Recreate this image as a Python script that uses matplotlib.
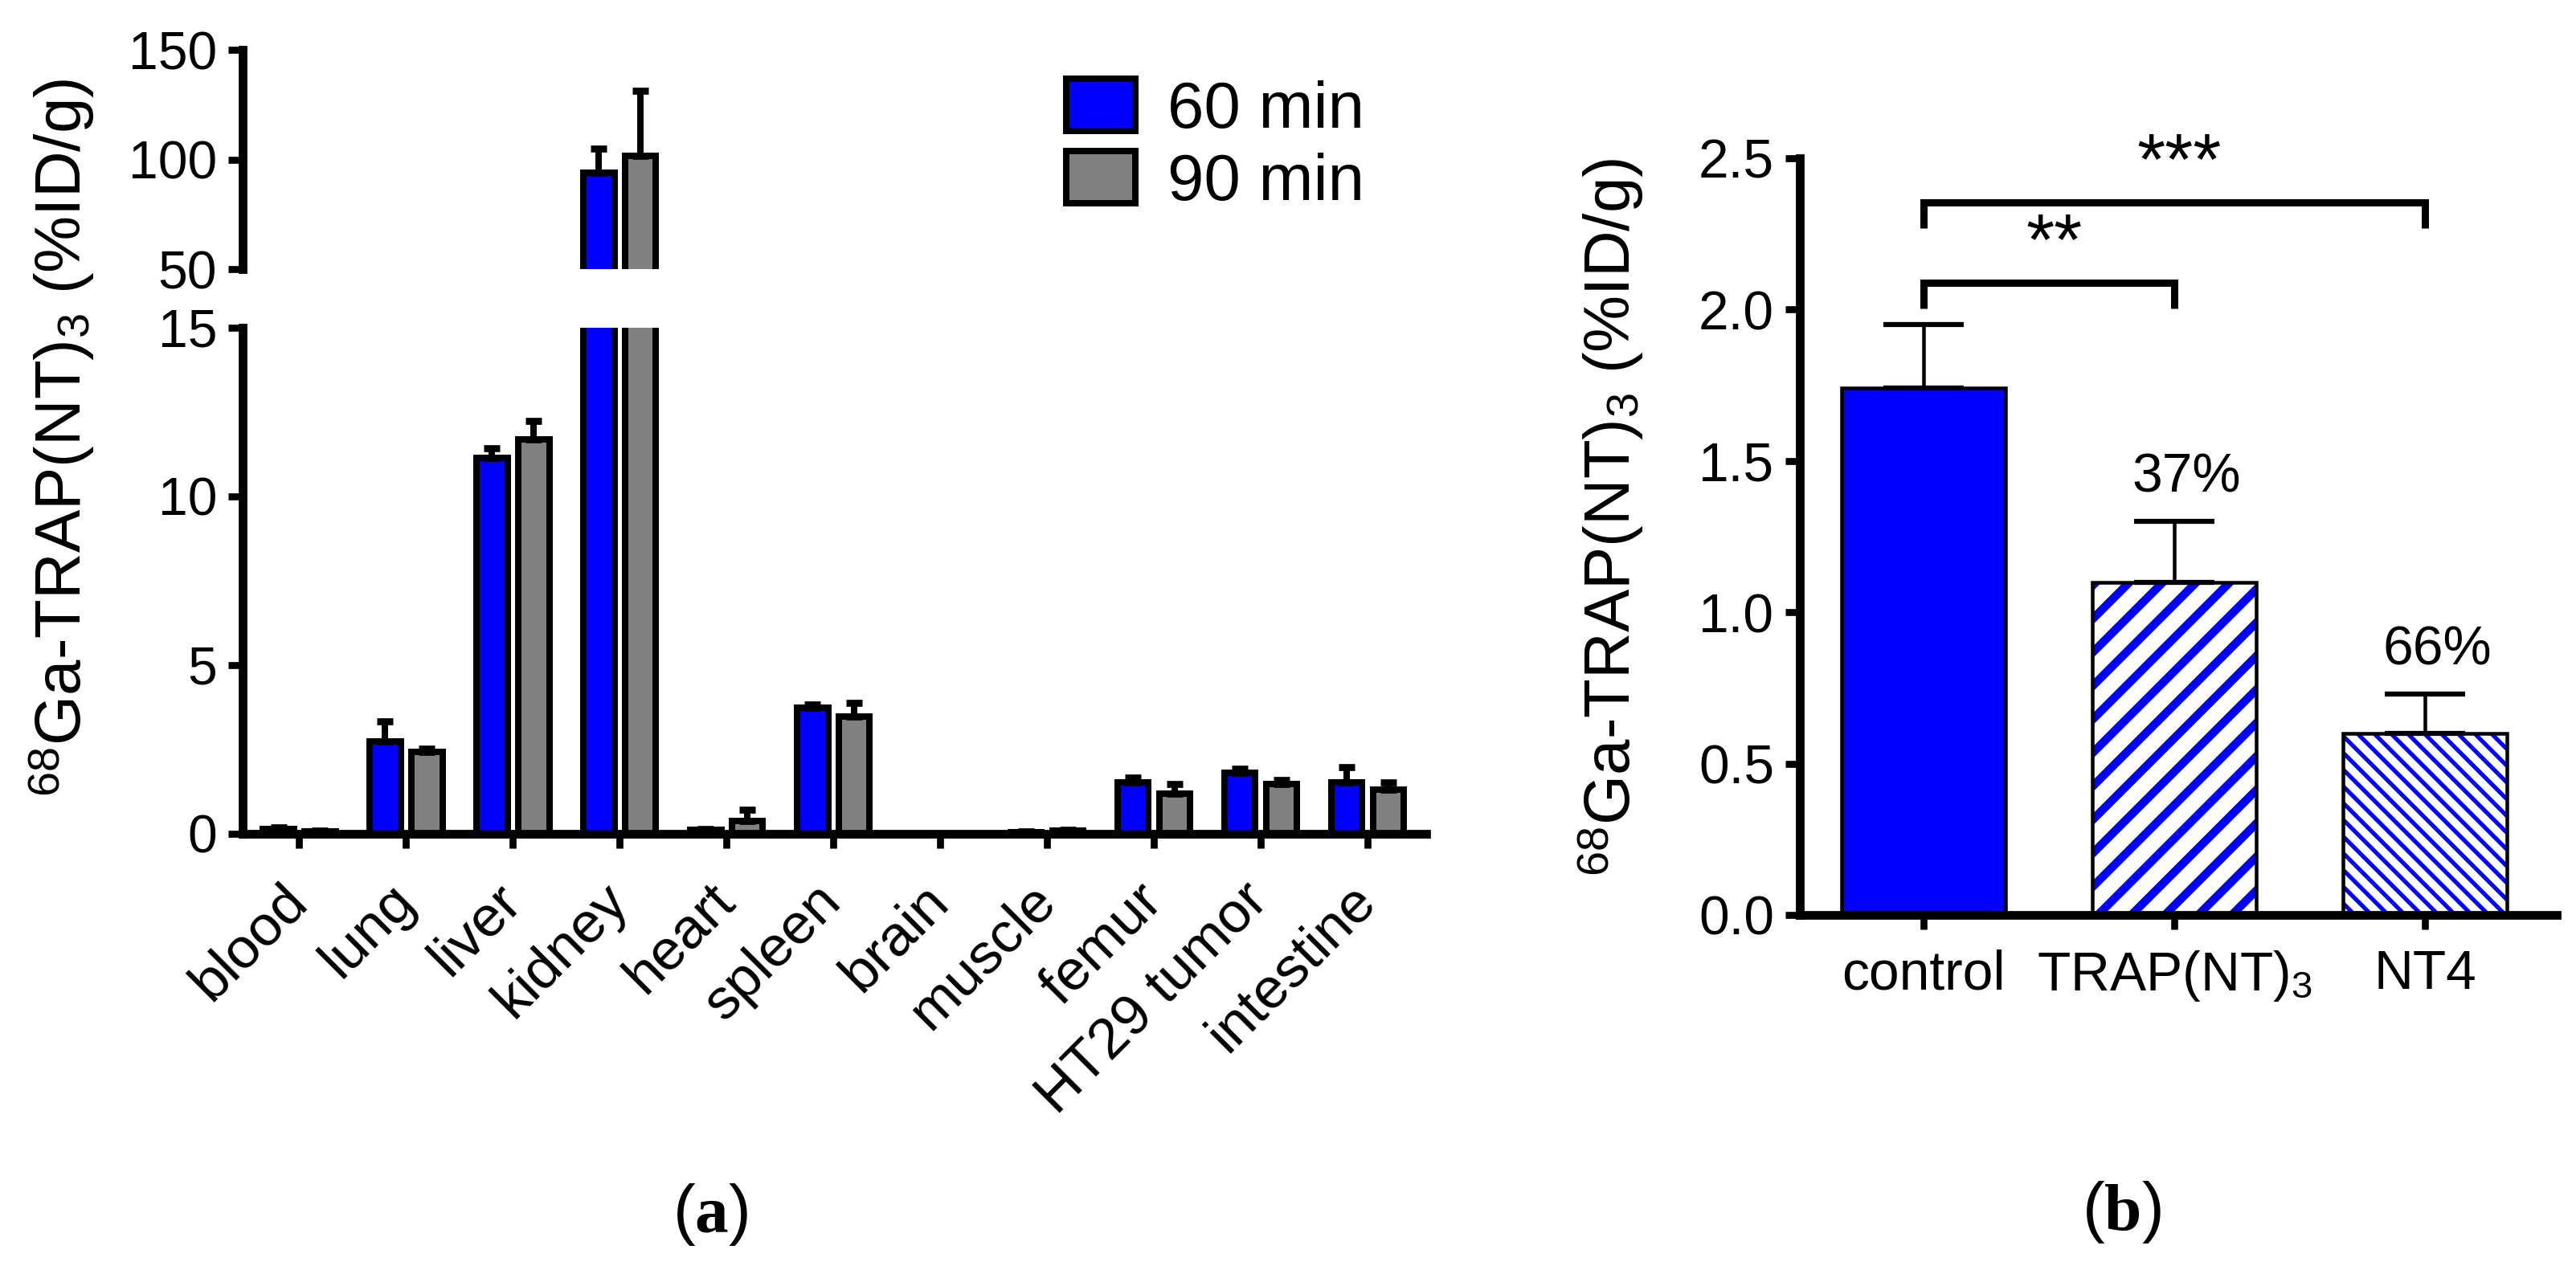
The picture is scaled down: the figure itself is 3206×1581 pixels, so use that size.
import numpy as np
import matplotlib.pyplot as plt

plt.rcParams['font.family'] = 'Liberation Sans'
plt.rcParams['mathtext.fontset'] = 'custom'
plt.rcParams['mathtext.rm'] = 'Liberation Sans'
plt.rcParams['mathtext.it'] = 'Liberation Serif'
plt.rcParams['mathtext.bf'] = 'Liberation Serif:bold'

# (a) biodistribution, %ID/g
organs = ['blood', 'lung', 'liver', 'kidney', 'heart', 'spleen', 'brain',
          'muscle', 'femur', 'HT29 tumor', 'intestine']
min60 = [0.15, 2.75, 11.15, 94.0, 0.12, 3.75, 0.0, 0.05, 1.52, 1.82, 1.52]
min60_err = [0.03, 0.58, 0.28, 11.0, 0.02, 0.08, 0.0, 0.02, 0.15, 0.12, 0.45]
min90 = [0.08, 2.42, 11.7, 101.5, 0.37, 3.47, 0.0, 0.10, 1.18, 1.47, 1.32]
min90_err = [0.02, 0.10, 0.53, 30.0, 0.35, 0.40, 0.0, 0.03, 0.29, 0.13, 0.20]

# (b) blocking study
groups = ['control', 'TRAP(NT)$_3$', 'NT4']
uptake = [1.74, 1.10, 0.60]
uptake_err = [0.21, 0.20, 0.13]
reduction = ['', '37%', '66%']

W, H, dpi = 3206, 1581, 250
fig = plt.figure(figsize=(W / dpi, H / dpi), dpi=dpi)


def box(x0, y0, x1, y1):
    return [x0 / W, 1 - y1 / H, (x1 - x0) / W, (y1 - y0) / H]


blue = '#0000ff'
grey = '#808080'
spine_lw = 3.1

ax_top = fig.add_axes(box(302, 62, 1775, 335))
ax_bot = fig.add_axes(box(302, 408, 1775, 1038))
ax_b = fig.add_axes(box(2240, 197, 3182, 1139))

# ---- panel (a), broken y axis ----
x = np.arange(len(organs))
n = len(organs)
w, off = 0.29, 0.195
for ax in (ax_top, ax_bot):
    b60 = ax.bar(x - off, min60, w, color=blue, edgecolor='black', linewidth=2.3, zorder=2, label='60 min')
    b90 = ax.bar(x + off, min90, w, color=grey, edgecolor='black', linewidth=2.3, zorder=2, label='90 min')
    ax.errorbar(x - off, min60, yerr=[np.zeros(n), min60_err], fmt='none', ecolor='black',
                elinewidth=2.3, capsize=2.8, capthick=2.5, zorder=3)
    ax.errorbar(x + off, min90, yerr=[np.zeros(n), min90_err], fmt='none', ecolor='black',
                elinewidth=2.3, capsize=2.8, capthick=2.5, zorder=3)
    ax.set_xlim(-0.53, n - 1 + 0.55)
    ax.spines['top'].set_visible(False)
    ax.spines['right'].set_visible(False)
    for s in ax.spines.values():
        s.set_linewidth(spine_lw)
    ax.tick_params(length=5.2, width=2.5, labelsize=19, pad=4)

ax_top.set_ylim(50, 150)
ax_top.set_yticks([50, 100, 150])
ax_top.spines['bottom'].set_visible(False)
ax_top.set_xticks([])

ax_bot.set_ylim(0, 15)
ax_bot.set_yticks([0, 5, 10, 15])
ax_bot.set_xticks(x)
ax_bot.set_xticklabels(organs, rotation=45, ha='right', va='center',
                       rotation_mode='anchor', fontsize=20.5)
ax_bot.tick_params(axis='x', pad=16)

ax_top.legend(handles=[b60, b90], loc='upper left', bbox_to_anchor=(1327 / W, 1 - 98 / H),
              bbox_transform=fig.transFigure, frameon=False, fontsize=23.5,
              handlelength=1.05, handleheight=0.85, handletextpad=0.5,
              labelspacing=0.15, borderpad=0, borderaxespad=0)

fig.text(77 / W, 1 - 545 / H, '$^{68}$Ga-TRAP(NT)$_3$ (%ID/g)', rotation=90,
         ha='center', va='center', fontsize=23)

# ---- panel (b) ----
xb = np.arange(len(groups))
bw = 0.655
ax_b.bar(xb[0], uptake[0], bw, color=blue, linewidth=0, zorder=2)
hatches = ['//', '\\\\\\\\']
hatch_lw = [3.0, 1.5]
for i in (1, 2):
    hb = ax_b.bar(xb[i], uptake[i], bw, color='white', edgecolor=blue, linewidth=0,
                  hatch=hatches[i - 1], zorder=2)
    for p in hb:
        if hasattr(p, 'set_hatch_linewidth'):
            p.set_hatch_linewidth(hatch_lw[i - 1])
ax_b.bar(xb, uptake, bw, fill=False, edgecolor='black', linewidth=1.3, zorder=3)
ax_b.errorbar(xb, uptake, yerr=[np.zeros(len(xb)), uptake_err], fmt='none', ecolor='black',
              elinewidth=1.3, capsize=14.5, capthick=1.8, zorder=3)

for xi, yi, e, lab in zip(xb, uptake, uptake_err, reduction):
    if lab:
        ax_b.text(xi + 0.05, yi + e + 0.06, lab, ha='center', va='bottom', fontsize=19.5)

# significance brackets
ax_b.plot([0, 0, 1, 1], [2.005, 2.089, 2.089, 2.005], color='black', lw=2.6,
          solid_capstyle='butt', solid_joinstyle='miter', clip_on=False)
ax_b.text(0.52, 2.10, '**', ha='center', va='bottom', fontsize=26)
ax_b.plot([0, 0, 2, 2], [2.269, 2.353, 2.353, 2.269], color='black', lw=2.6,
          solid_capstyle='butt', solid_joinstyle='miter', clip_on=False)
ax_b.text(1.02, 2.365, '***', ha='center', va='bottom', fontsize=26)

ax_b.set_xlim(-0.494, 2.526)
ax_b.set_ylim(0, 2.5)
ax_b.set_yticks(np.arange(0, 2.51, 0.5))
ax_b.yaxis.set_major_formatter(plt.FormatStrFormatter('%.1f'))
ax_b.set_xticks(xb)
ax_b.set_xticklabels(groups)
ax_b.spines['top'].set_visible(False)
ax_b.spines['right'].set_visible(False)
for s in ax_b.spines.values():
    s.set_linewidth(spine_lw)
ax_b.tick_params(length=5.2, width=2.5, labelsize=19.5, pad=4)
ax_b.tick_params(axis='x', pad=7)
ax_b.set_ylabel('$^{68}$Ga-TRAP(NT)$_3$ (%ID/g)', fontsize=23, va='center')
ax_b.yaxis.set_label_coords(-0.249, 0.525)

# captions
fig.text(884 / W, 1 - 1512 / H, r'$\mathit{(}\mathbf{a}\mathit{)}$', ha='center', va='center', fontsize=24)
fig.text(2640 / W, 1 - 1509 / H, r'$\mathit{(}\mathbf{b}\mathit{)}$', ha='center', va='center', fontsize=24)

fig.savefig('out.png', dpi=dpi)
